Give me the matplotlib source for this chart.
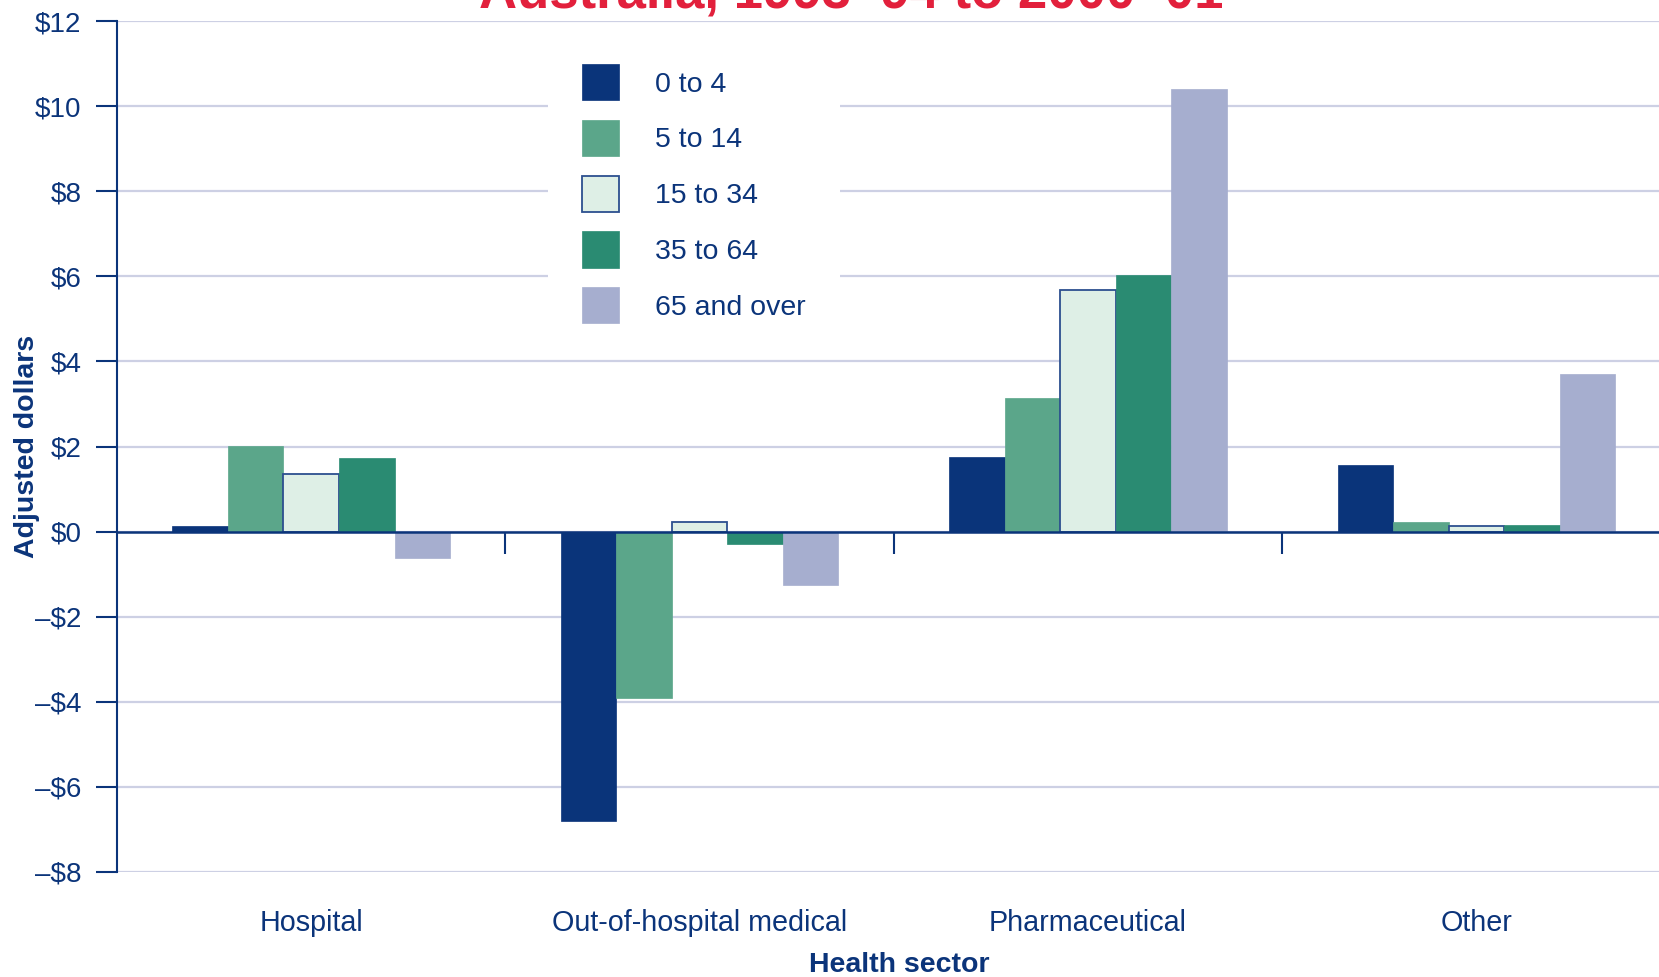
import matplotlib
matplotlib.use("Agg")
import matplotlib.pyplot as plt
import numpy as np

plt.rcParams['font.family'] = ['Liberation Sans', 'DejaVu Sans']

sectors = ["Hospital", "Out-of-hospital medical", "Pharmaceutical", "Other"]
age_groups = ["0 to 4", "5 to 14", "15 to 34", "35 to 64", "65 and over"]
age_0_4 = [0.14, -6.8, 1.75, 1.57]
age_5_14 = [2.02, -3.9, 3.14, 0.23]
age_15_34 = [1.36, 0.22, 5.67, 0.12]
age_35_64 = [1.72, -0.3, 6.02, 0.16]
age_65_over = [-0.63, -1.25, 10.41, 3.7]
yticks = [12, 10, 8, 6, 4, 2, 0, -2, -4, -6, -8]

navy = "#0b347a"
colors = ["#0a347a", "#5ba68a", "#deefe6", "#2a8b72", "#a6aecf"]
edges = ["#0a347a", "#5ba68a", "#2c4f8f", "#2a8b72", "#a6aecf"]
series = [age_0_4, age_5_14, age_15_34, age_35_64, age_65_over]

fig = plt.figure(figsize=(16.59, 9.77), dpi=100)
ax = fig.add_axes([117 / 1659, 105 / 977, 1542 / 1659, 851 / 977])

x = np.arange(len(sectors))
w = 0.143
for i, (vals, c, ec) in enumerate(zip(series, colors, edges)):
    lw = 1.3 if i == 2 else 0.5
    ax.bar(x + (i - 2) * w, vals, w, color=c, edgecolor=ec, linewidth=lw,
           label=age_groups[i], zorder=2)

ax.set_xlim(-0.5, 3.47)
ax.set_ylim(-8, 12)
ax.set_yticks(yticks)
ax.set_yticklabels([("\u2013$%d" % -t) if t < 0 else "$%d" % t for t in yticks])
ax.set_axisbelow(True)
ax.yaxis.grid(True, color="#cdd0e4", linewidth=1.6)

for s in ["top", "right"]:
    ax.spines[s].set_visible(False)
ax.spines["left"].set_color(navy)
ax.spines["left"].set_linewidth(1.5)
ax.spines["bottom"].set_position(("data", 0))
ax.spines["bottom"].set_color(navy)
ax.spines["bottom"].set_linewidth(1.8)
ax.spines["bottom"].set_zorder(3)

ax.tick_params(axis="y", direction="out", length=15, width=1.5, color=navy,
               labelcolor=navy, labelsize=20, pad=10.5)
ax.set_xticks(x)
ax.set_xticklabels(sectors)
ax.set_xticks([0.5, 1.5, 2.5], minor=True)
ax.tick_params(axis="x", which="major", length=0, labelcolor=navy,
               labelsize=20.7, pad=271.5)
ax.tick_params(axis="x", which="minor", direction="out", length=16,
               width=1.5, color=navy)

fig.text(27 / 1659, 1 - 446 / 977, "Adjusted dollars", rotation=90,
         ha="center", va="center", color=navy, fontsize=20.5, fontweight="bold")
fig.text(899 / 1659, 1 - 965 / 977, "Health sector", ha="center", va="center",
         color=navy, fontsize=20.5, fontweight="bold")
fig.text(851 / 1659, 1 - 8 / 977, "Australia, 1993\u201394 to 2000\u201301",
         ha="center", va="baseline", color="#e2203c", fontsize=38,
         fontweight="bold")

leg = ax.legend(loc="upper left", bbox_to_anchor=(548 / 1659, 1 - 30 / 977),
                bbox_transform=fig.transFigure, borderaxespad=0,
                fontsize=20.5, frameon=True, fancybox=False, framealpha=1,
                facecolor="white", edgecolor="none", borderpad=1.2,
                handlelength=1.31, handleheight=1.581, handletextpad=1.24,
                labelspacing=0.685)
for t in leg.get_texts():
    t.set_color(navy)

fig.savefig("out.png", dpi=100)
